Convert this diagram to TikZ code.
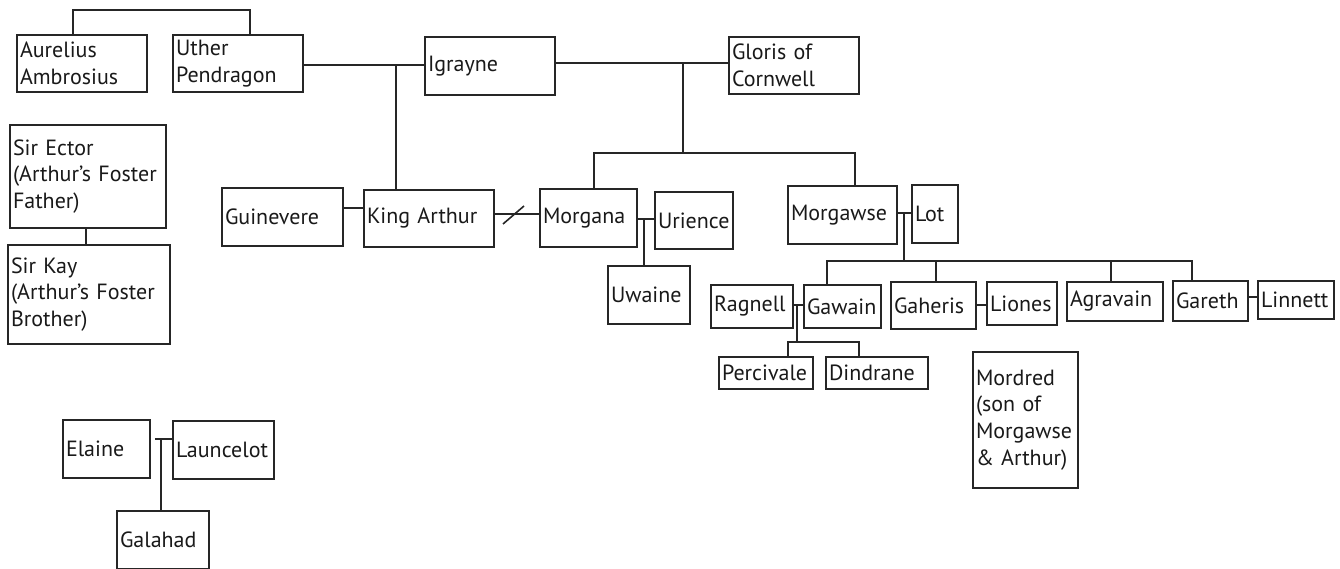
\documentclass[tikz,border=0pt]{standalone}
\usepackage{fontspec}
\setmainfont{PT Sans}
\usetikzlibrary{calc}
\begin{document}
\begin{tikzpicture}[x=1pt,y=-1pt,
  person/.style={draw=black!85, line width=1.6pt, inner xsep=3pt, inner ysep=0pt, align=left,
    font=\fontsize{22}{26.8}\selectfont, text=black!90},
  link/.style={draw=black!85, line width=1.6pt}]
\newcommand\mkbox[6]{%
  \pgfmathsetmacro\bw{#4-#2}\pgfmathsetmacro\bh{#5-#3}\pgfmathsetmacro\tw{#4-#2-6}%
  \pgfmathsetmacro\cx{(#2+#4)/2}\pgfmathsetmacro\cy{(#3+#5)/2}%
  \node[person, minimum width=\bw pt, minimum height=\bh pt, text width=\tw pt] (#1) at (\cx,\cy) {#6};}
\useasboundingbox (0,0) rectangle (1340,568);
\mkbox{aurelius}{17}{35}{147}{92}{Aurelius\\Ambrosius}
\mkbox{uther}{173}{35}{303}{92}{Uther\\Pendragon}
\mkbox{igrayne}{425}{37}{555}{95}{Igrayne}
\mkbox{gloris}{729}{37}{859}{94}{Gloris of\\Cornwell}
\mkbox{ector}{10}{125}{166}{228}{Sir Ector\\(Arthur’s Foster\\Father)}
\mkbox{kay}{8}{245}{170}{344}{Sir Kay\\(Arthur’s Foster\\Brother)}
\mkbox{guinevere}{222}{188}{343}{246}{Guinevere}
\mkbox{arthur}{364}{190}{494}{247}{King Arthur}
\mkbox{morgana}{540}{189}{637}{247}{Morgana}
\mkbox{urience}{655}{192}{733}{249}{Urience}
\mkbox{uwaine}{608}{266}{690}{324}{Uwaine}
\mkbox{morgawse}{788}{186}{897}{244}{Morgawse}
\mkbox{lot}{912}{185}{958}{243}{Lot}
\mkbox{ragnell}{711}{285}{793}{328}{Ragnell}
\mkbox{gawain}{804}{285}{881}{328}{Gawain}
\mkbox{gaheris}{891}{282}{976}{329}{Gaheris}
\mkbox{liones}{987}{282}{1057}{325}{Liones}
\mkbox{agravain}{1067}{282}{1163}{321}{Agravain}
\mkbox{gareth}{1173}{281}{1248}{321}{Gareth}
\mkbox{linnett}{1258}{281}{1334}{319}{Linnett}
\mkbox{percivale}{719}{357}{813}{389}{Percivale}
\mkbox{dindrane}{826}{357}{928}{389}{Dindrane}
\mkbox{mordred}{973}{352}{1078}{488}{Mordred\\(son of\\Morgawse\\\& Arthur)}
\mkbox{elaine}{63}{420}{150}{478}{Elaine}
\mkbox{launcelot}{173}{421}{274}{479}{Launcelot}
\mkbox{galahad}{117}{511}{209}{569}{Galahad}
% junction coordinates
\coordinate (tbl) at (73,10);
\coordinate (tbr) at (250,10);
\coordinate (ju) at (396,65);
\coordinate (jg) at (683,63);
\coordinate (jgd) at (683,153);
\coordinate (jgl) at (594,153);
\coordinate (jgr) at (855,153);
\coordinate (jga) at (353,208);
\coordinate (jam) at (517,214);
\coordinate (jmu) at (644,219);
\coordinate (jml) at (904,213);
\coordinate (jmld) at (904,261);
\coordinate (jcl) at (827,261);
\coordinate (jcr) at (1192,261);
\coordinate (jgh) at (936,261);
\coordinate (jag) at (1111,261);
\coordinate (jrg) at (797,305);
\coordinate (jrgd) at (797,342);
\coordinate (jpl) at (788,342);
\coordinate (jpr) at (859,342);
\coordinate (jgl2) at (981,305);
\coordinate (jgt) at (1253,297);
\coordinate (jek) at (86,236);
\coordinate (jel) at (161,439);
% connectors
\draw[link] (aurelius.north -| tbl) -- (tbl) -- (tbr) -- (uther.north -| tbr);
\draw[link] (uther.east |- ju) -- (igrayne.west |- ju);
\draw[link] (ju) -- (arthur.north -| ju);
\draw[link] (igrayne.east |- jg) -- (gloris.west |- jg);
\draw[link] (jg) -- (jgd);
\draw[link] (morgana.north -| jgl) -- (jgl) -- (jgr) -- (morgawse.north -| jgr);
\draw[link] (guinevere.east |- jga) -- (arthur.west |- jga);
\draw[link] (arthur.east |- jam) -- (morgana.west |- jam);
\draw[link] ($(jam)+(-14,10)$) -- ($(jam)+(7,-8)$);
\draw[link] (morgana.east |- jmu) -- (urience.west |- jmu);
\draw[link] (jmu) -- (uwaine.north -| jmu);
\draw[link] (morgawse.east |- jml) -- (lot.west |- jml);
\draw[link] (jml) -- (jmld);
\draw[link] (gawain.north -| jcl) -- (jcl) -- (jcr) -- (gareth.north -| jcr);
\draw[link] (jgh) -- (gaheris.north -| jgh);
\draw[link] (jag) -- (agravain.north -| jag);
\draw[link] (ragnell.east |- jrg) -- (gawain.west |- jrg);
\draw[link] (jrg) -- (jrgd);
\draw[link] (percivale.north -| jpl) -- (jpl) -- (jpr) -- (dindrane.north -| jpr);
\draw[link] (gaheris.east |- jgl2) -- (liones.west |- jgl2);
\draw[link] (gareth.east |- jgt) -- (linnett.west |- jgt);
\draw[link] (ector.south -| jek) -- (kay.north -| jek);
\draw[link] (elaine.east |- jel) ++(4,0) -- (launcelot.west |- jel);
\draw[link] (jel) -- (galahad.north -| jel);
\end{tikzpicture}
\end{document}
